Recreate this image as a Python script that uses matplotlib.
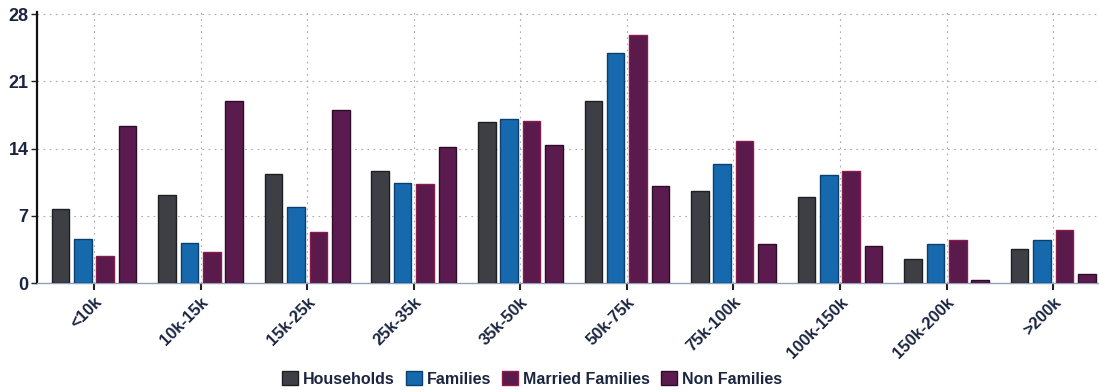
import numpy as np
import matplotlib
matplotlib.use("Agg")
import matplotlib.pyplot as plt

plt.rcParams["font.family"] = ["Liberation Sans", "DejaVu Sans"]

# income brackets and % shares per series
brackets = ["<10k", "10k-15k", "15k-25k", "25k-35k", "35k-50k",
            "50k-75k", "75k-100k", "100k-150k", "150k-200k", ">200k"]
households = [7.7, 9.2, 11.4, 11.7, 16.8, 18.9, 9.6, 9.0, 2.5, 3.5]
families   = [4.6, 4.2, 7.9, 10.4, 17.1, 23.9, 12.4, 11.3, 4.1, 4.5]
married    = [2.8, 3.2, 5.3, 10.3, 16.9, 25.8, 14.8, 11.7, 4.5, 5.5]
nonfam     = [16.4, 19.0, 18.0, 14.2, 14.4, 10.1, 4.1, 3.9, 0.3, 0.9]

series = [
    ("Households", households, "#3d3f44", "#1e1f22"),
    ("Families", families, "#1769ad", "#0d3f6e"),
    ("Married Families", married, "#5a1a4c", "#8a1c4a"),
    ("Non Families", nonfam, "#5c1b4f", "#2e0c27"),
]
TXT = "#1b2540"

fig = plt.figure(figsize=(10.99, 3.9), dpi=100)
ax = fig.add_axes([0.0337, 0.274, 0.9663, 0.695])

x = np.arange(len(brackets))
step, w = 0.21, 0.165
for k, (name, vals, fc, ec) in enumerate(series):
    ax.bar(x + (k - 1.5) * step, vals, w, color=fc, edgecolor=ec, linewidth=1.0,
           label=name, zorder=3)

ax.set_xlim(-0.535, 9.43)
ax.set_ylim(0, 28.2)
ax.set_yticks([0, 7, 14, 21, 28])
ax.set_xticks(x)
ax.set_xticklabels(brackets, rotation=45, ha="right", rotation_mode="anchor",
                   fontsize=12, fontweight="bold", color=TXT)
for t in ax.get_yticklabels():
    t.set_fontsize(13); t.set_fontweight("bold"); t.set_color(TXT)
ax.tick_params(axis="x", length=5, width=1.5, color="#222", pad=3)
ax.tick_params(axis="y", length=4, width=1, color="#222", pad=2)

ax.grid(True, ls=(0, (1.5, 4)), color="#a8a8b4", lw=0.8, zorder=0)
for s in ("top", "right"):
    ax.spines[s].set_visible(False)
ax.spines["left"].set_color("#111")
ax.spines["left"].set_linewidth(1.6)
ax.spines["bottom"].set_color("#8fa3b8")
ax.spines["bottom"].set_linewidth(1.0)

leg = fig.legend(loc="lower center", bbox_to_anchor=(0.484, -0.028), ncol=4, frameon=False,
                 handlelength=1.0, handleheight=0.9, handletextpad=0.3, columnspacing=0.7,
                 prop={"weight": "bold", "size": 11.5})
for t in leg.get_texts():
    t.set_color(TXT)

fig.savefig("out.png", dpi=100)
